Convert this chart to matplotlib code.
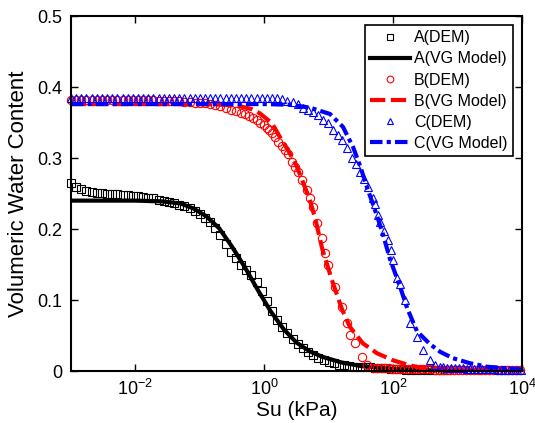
import numpy as np
import matplotlib
matplotlib.use('Agg')
import matplotlib.pyplot as plt
from matplotlib.ticker import FixedLocator, FuncFormatter, NullLocator

plt.rcParams['font.family'] = ['Liberation Sans', 'DejaVu Sans']
plt.rcParams['mathtext.fontset'] = 'custom'
plt.rcParams['mathtext.rm'] = 'Liberation Sans'
plt.rcParams['lines.scale_dashes'] = False

# ---- data (suction as log10(kPa), theta as volumetric water content)
a_dem_log = [-3.00, -2.92, -2.84, -2.76, -2.68, -2.60, -2.52, -2.44, -2.36, -2.28,
             -2.20, -2.12, -2.04, -1.96, -1.88, -1.80, -1.72, -1.64, -1.56, -1.48,
             -1.40, -1.32, -1.24, -1.16, -1.08, -1.00, -0.92, -0.84, -0.76, -0.68,
             -0.60, -0.52, -0.44, -0.36, -0.28, -0.20, -0.12, -0.04, 0.04, 0.12,
             0.20, 0.28, 0.36, 0.44, 0.52, 0.60, 0.68, 0.76, 0.84, 0.92,
             1.00, 1.08, 1.16, 1.24, 1.32, 1.40, 1.48, 1.56, 1.64, 1.72,
             1.80, 1.88, 1.96, 2.04, 2.12, 2.20, 2.28, 2.36, 2.44, 2.52,
             2.60, 2.68, 2.76, 2.84]
a_dem_theta = [0.265, 0.259, 0.256, 0.254, 0.252, 0.251, 0.251, 0.250, 0.249, 0.249,
               0.248, 0.248, 0.247, 0.246, 0.245, 0.244, 0.243, 0.241, 0.240, 0.238,
               0.236, 0.234, 0.232, 0.229, 0.225, 0.221, 0.216, 0.210, 0.201, 0.191,
               0.179, 0.168, 0.159, 0.150, 0.142, 0.135, 0.125, 0.113, 0.099, 0.085,
               0.072, 0.062, 0.053, 0.045, 0.038, 0.032, 0.027, 0.022, 0.018, 0.015,
               0.013, 0.011, 0.009, 0.008, 0.007, 0.006, 0.006, 0.005, 0.005, 0.004,
               0.004, 0.004, 0.003, 0.003, 0.003, 0.002, 0.002, 0.002, 0.002, 0.002,
               0.002, 0.002, 0.002, 0.001]

a_vg_log = [-3.0, -2.0, -1.6, -1.3, -1.1, -0.9, -0.7, -0.5, -0.3, -0.1, 0.1,
            0.3, 0.5, 0.7, 0.9, 1.2, 1.5, 2.0, 2.5, 3.0, 4.0]
a_vg_theta = [0.240, 0.240, 0.239, 0.236, 0.229, 0.218, 0.201, 0.175, 0.146, 0.114, 0.084,
              0.059, 0.040, 0.028, 0.020, 0.012, 0.007, 0.003, 0.001, 0.0005, 0.0]

b_dem_log = [-3.00, -2.92, -2.84, -2.76, -2.68, -2.60, -2.52, -2.44, -2.36, -2.28,
             -2.20, -2.12, -2.04, -1.96, -1.88, -1.80, -1.72, -1.64, -1.56, -1.48,
             -1.40, -1.32, -1.24, -1.16, -1.08, -1.00, -0.92,
             -0.84, -0.76, -0.68, -0.60, -0.52, -0.44, -0.36, -0.30, -0.24, -0.18,
             -0.12, -0.06, 0.00, 0.04, 0.08, 0.12, 0.17, 0.21, 0.27, 0.32,
             0.37, 0.43, 0.48, 0.52, 0.59, 0.66, 0.71, 0.76, 0.82, 0.90,
             0.95, 0.99, 1.10, 1.21, 1.28, 1.33, 1.41, 1.52, 1.59, 1.69,
             1.75, 1.81, 1.87, 1.93, 1.99, 2.05, 2.11, 2.17, 2.23, 2.29,
             2.35, 2.41, 2.47, 2.53, 2.59, 2.65, 2.71, 2.77, 2.83, 2.89,
             2.95, 3.01, 3.07, 3.13, 3.19, 3.25, 3.31, 3.37, 3.43, 3.49,
             3.55, 3.61, 3.67, 3.73, 3.79, 3.85, 3.91, 3.97]
b_dem_theta = [0.382, 0.382, 0.382, 0.382, 0.382, 0.382, 0.382, 0.382, 0.382, 0.382,
               0.382, 0.382, 0.382, 0.382, 0.382, 0.382, 0.382, 0.381, 0.381, 0.381,
               0.380, 0.380, 0.379, 0.379, 0.378, 0.378, 0.377,
               0.376, 0.375, 0.373, 0.371, 0.368, 0.366, 0.364, 0.362, 0.359, 0.356,
               0.354, 0.350, 0.346, 0.342, 0.339, 0.335, 0.329, 0.323, 0.317, 0.312,
               0.306, 0.294, 0.287, 0.280, 0.269, 0.255, 0.243, 0.231, 0.208, 0.187,
               0.166, 0.150, 0.118, 0.090, 0.068, 0.051, 0.039, 0.020, 0.008, 0.004,
               0.004, 0.004, 0.004, 0.004, 0.003, 0.003, 0.003, 0.003, 0.003, 0.003,
               0.003, 0.003, 0.003, 0.003, 0.003, 0.002, 0.002, 0.002, 0.002, 0.002,
               0.002, 0.002, 0.002, 0.002, 0.002, 0.002, 0.002, 0.002, 0.002, 0.002,
               0.002, 0.002, 0.002, 0.002, 0.002, 0.002, 0.002, 0.002]

b_vg_log = [-3.0, -1.0, -0.6, -0.38, -0.2, -0.07, 0.12, 0.24, 0.37, 0.51, 0.60, 0.70,
            0.79, 0.90, 1.05, 1.21, 1.33, 1.53, 1.75, 2.0, 2.26, 2.46, 3.0, 4.0]
b_vg_theta = [0.376, 0.376, 0.375, 0.373, 0.369, 0.363, 0.349, 0.330, 0.311, 0.287, 0.266, 0.243,
              0.215, 0.172, 0.128, 0.086, 0.062, 0.039, 0.025, 0.015, 0.008, 0.004, 0.001, 0.0]

c_dem_log = [-3.00, -2.92, -2.84, -2.76, -2.68, -2.60, -2.52, -2.44, -2.36, -2.28,
             -2.20, -2.12, -2.04, -1.96, -1.88, -1.80, -1.72, -1.64, -1.56, -1.48,
             -1.40, -1.32, -1.24, -1.16, -1.08, -1.00, -0.92, -0.84, -0.76, -0.68,
             -0.60, -0.52, -0.44, -0.36, -0.28, -0.20, -0.12, -0.04, 0.04, 0.12,
             0.20, 0.28, 0.36, 0.44,
             0.52, 0.60, 0.68, 0.76, 0.83, 0.91, 0.99, 1.07, 1.14, 1.21,
             1.28, 1.36, 1.42, 1.49, 1.55, 1.61, 1.69, 1.72, 1.77, 1.80,
             1.86, 1.92, 1.96, 2.00, 2.06, 2.10, 2.18, 2.26, 2.37, 2.46,
             2.57, 2.65,
             2.72, 2.78, 2.84, 2.90, 2.96, 3.02, 3.08, 3.14, 3.20, 3.26,
             3.32, 3.38, 3.44, 3.50, 3.56, 3.62, 3.68, 3.74, 3.80, 3.86,
             3.92, 3.98]
c_dem_theta = [0.385, 0.385, 0.385, 0.385, 0.385, 0.385, 0.385, 0.385, 0.385, 0.385,
               0.385, 0.385, 0.385, 0.385, 0.385, 0.385, 0.385, 0.385, 0.385, 0.385,
               0.385, 0.385, 0.385, 0.385, 0.385, 0.385, 0.385, 0.385, 0.385, 0.385,
               0.385, 0.385, 0.385, 0.385, 0.385, 0.385, 0.385, 0.385, 0.385, 0.384,
               0.384, 0.383, 0.381, 0.379,
               0.376, 0.370, 0.368, 0.365, 0.360, 0.353, 0.349, 0.339, 0.332, 0.325,
               0.314, 0.300, 0.291, 0.280, 0.270, 0.259, 0.244, 0.235, 0.220, 0.210,
               0.197, 0.185, 0.170, 0.156, 0.131, 0.122, 0.100, 0.068, 0.048, 0.030,
               0.015, 0.008,
               0.005, 0.005, 0.004, 0.004, 0.004, 0.004, 0.004, 0.003, 0.003, 0.003,
               0.003, 0.003, 0.003, 0.003, 0.003, 0.002, 0.002, 0.002, 0.002, 0.002,
               0.002, 0.002]

c_vg_log = [-3.0, 0.0, 0.4, 0.71, 1.02, 1.22, 1.38, 1.49, 1.59, 1.69, 1.77, 1.85, 1.95,
            2.11, 2.22, 2.37, 2.57, 2.73, 2.93, 3.19, 3.46, 4.0]
c_vg_theta = [0.376, 0.376, 0.375, 0.371, 0.362, 0.344, 0.315, 0.288, 0.260, 0.234, 0.213, 0.190, 0.158,
              0.118, 0.088, 0.056, 0.038, 0.027, 0.018, 0.011, 0.006, 0.002]

y_ticks = [0, 0.1, 0.2, 0.3, 0.4, 0.5]
y_ticklabels = ['0', '0.1', '0.2', '0.3', '0.4', '0.5']
x_ticks = [1e-2, 1e0, 1e2, 1e4]

fig = plt.figure(figsize=(5.35, 4.23), dpi=100)
ax = fig.add_axes([0.1327, 0.1229, 0.8430, 0.8392])

mk = dict(linestyle='none', mfc='none', ms=6, mew=0.8, clip_on=False)
ax.plot(10 ** np.array(a_dem_log), a_dem_theta, marker='s', mec='k', label='A(DEM)', **mk)
ax.plot(10 ** np.array(a_vg_log), a_vg_theta, '-', color='k', lw=3, label='A(VG Model)')
ax.plot(10 ** np.array(b_dem_log), b_dem_theta, marker='o', mec='r', label='B(DEM)', **mk)
ax.plot(10 ** np.array(b_vg_log), b_vg_theta, color='r', lw=3, dashes=(11, 4),
        label='B(VG Model)')
ax.plot(10 ** np.array(c_dem_log), c_dem_theta, marker='^', mec='b', label='C(DEM)', **mk)
ax.plot(10 ** np.array(c_vg_log), c_vg_theta, color='b', lw=3, dashes=(9, 3, 3, 3),
        label='C(VG Model)')

ax.set_xscale('log')
ax.set_xlim(1e-3, 1e4)
ax.set_ylim(0, 0.5)
ax.xaxis.set_major_locator(FixedLocator(x_ticks))
ax.xaxis.set_minor_locator(NullLocator())
ax.xaxis.set_major_formatter(FuncFormatter(
    lambda v, p: r'$\mathregular{10^{%d}}$' % int(round(np.log10(v)))))
ax.set_yticks(y_ticks)
ax.set_yticklabels(y_ticklabels)
ax.tick_params(direction='in', length=5, width=1, top=True, right=True,
               labelsize=13, pad=6)
for s in ax.spines.values():
    s.set_linewidth(1.5)

ax.set_xlabel('Su (kPa)', fontsize=15, labelpad=1)
ax.set_ylabel('Volumeric Water Content', fontsize=16, labelpad=6)

leg = ax.legend(loc='upper right', fontsize=11.5, fancybox=False, edgecolor='k',
                framealpha=1, handlelength=2.5, borderaxespad=0.55,
                labelspacing=0.38, handletextpad=0.25, borderpad=0.35,
                markerscale=0.8)
leg.get_frame().set_linewidth(1.2)

fig.savefig('out.png', dpi=100)
